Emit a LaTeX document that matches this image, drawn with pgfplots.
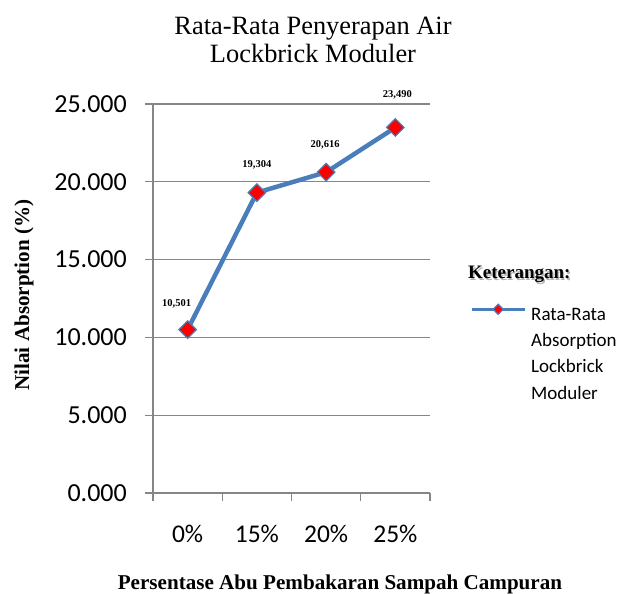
\documentclass[border=0pt]{standalone}
\usepackage{fontspec}
\setmainfont{Liberation Serif}
\newfontfamily\carlito{Carlito}
\usepackage{pgfplots}
\pgfplotsset{compat=1.18}
\definecolor{lineblue}{RGB}{74,126,187}
\definecolor{gridgray}{RGB}{134,134,134}
\pgfplotsset{
  vlabel/.style 2 args={draw=none, mark=none, forget plot, point meta=y,
    nodes near coords={\pgfmathprintnumber[use comma,fixed,fixed zerofill,precision=3]{\pgfplotspointmeta}},
    every node near coord/.append style={anchor=center, xshift=#1, yshift=#2,
      font=\bfseries\fontsize{10.5}{12}\selectfont, text=black, inner sep=0pt}},
}

\begin{document}
\begin{tikzpicture}[x=1pt,y=1pt]
\useasboundingbox (0,0) rectangle (625,594);
\begin{axis}[
  at={(153pt,101pt)}, anchor=south west,
  scale only axis, width=277pt, height=389pt,
  xmin=0, xmax=4, ymin=0, ymax=25,
  axis x line*=bottom, axis y line*=left,
  axis line style={draw=gridgray, line width=1.2pt},
  /pgf/number format/assume math mode=true,
  ytick={0,5,10,15,20,25},
  ymajorgrids,
  major grid style={draw=gridgray, line width=1.2pt},
  tick align=outside,
  major tick length=8pt, minor tick length=8pt,
  tick style={draw=gridgray, line width=1.2pt},
  xtick={0.5,1.5,2.5,3.5},
  xticklabels={0\%,15\%,20\%,25\%},
  major x tick style={draw=none},
  minor xtick={0,1,2,3,4},
  yticklabel={\pgfmathprintnumber[fixed,fixed zerofill,precision=3]{\tick}},
  yticklabel style={font=\carlito\fontsize{26}{30}\selectfont, anchor=east, inner sep=0pt, xshift=-18pt},
  xticklabel style={font=\carlito\fontsize{25.5}{30}\selectfont, anchor=base, inner sep=0pt, yshift=-42pt},
  legend style={draw=none, fill=none, at={(axis description cs:1.1444,0.4859)}, anchor=north west,
    inner sep=0pt, row sep=8.3pt, column sep=5pt,
    nodes={inner sep=0pt, text height=14pt, text depth=4pt, font=\carlito\fontsize{19}{23}\selectfont},
    cells={anchor=west}},
  legend image code/.code={
    \draw[#1, line width=3pt, mark=none] (0pt,6pt) -- (53pt,6pt);
    \draw[#1, mark size=3.6pt] plot coordinates {(26.5pt,6pt)};
  },
]
\addplot[lineblue, line width=4.5pt, mark=square*, mark size=6.2pt,
  mark options={rotate=45, fill=red, draw=lineblue, line width=1.2pt, solid},
] coordinates {(0.5,10.501) (1.5,19.304) (2.5,20.616) (3.5,23.490)};
\addlegendentry{Rata-Rata}
\addlegendimage{empty legend}
\addlegendentry{Absorption}
\addlegendimage{empty legend}
\addlegendentry{Lockbrick}
\addlegendimage{empty legend}
\addlegendentry{Moduler}
\addplot[vlabel={-11pt}{26pt}] coordinates {(0.5,10.501)};
\addplot[vlabel={0pt}{28pt}] coordinates {(1.5,19.304)};
\addplot[vlabel={-1pt}{27pt}] coordinates {(2.5,20.616)};
\addplot[vlabel={2pt}{32.5pt}] coordinates {(3.5,23.490)};
\end{axis}
\node[anchor=base, inner sep=0pt, font=\fontsize{26.4}{30}\selectfont] at (313,559) {Rata-Rata Penyerapan Air};
\node[anchor=base, inner sep=0pt, font=\fontsize{26.4}{30}\selectfont] at (313,531) {Lockbrick Moduler};
\node[anchor=base, inner sep=0pt, font=\bfseries\fontsize{21.1}{25}\selectfont] at (340,4) {Persentase Abu Pembakaran Sampah Campuran};
\node[anchor=base, rotate=90, inner sep=0pt, font=\bfseries\fontsize{21.1}{25}\selectfont] at (29,299) {Nilai Absorption (\%)};
\node[anchor=base west, inner sep=0pt, text=black!30, font=\bfseries\fontsize{19}{23}\selectfont] at (469.3,313.7) {Keterangan:};
\node[anchor=base west, inner sep=0pt, font=\bfseries\fontsize{19}{23}\selectfont] at (468,315) {Keterangan:};
\end{tikzpicture}
\end{document}
